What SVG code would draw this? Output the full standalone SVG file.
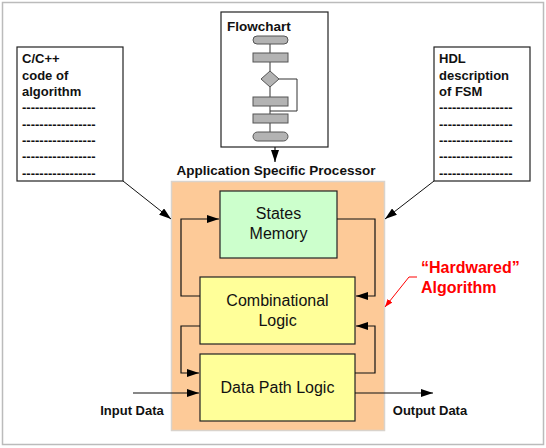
<svg xmlns="http://www.w3.org/2000/svg" width="546" height="448" viewBox="0 0 546 448">
<style>
text{font-family:"Liberation Sans",Arial,sans-serif;fill:#111}
.b{font-weight:bold}
.doc{font-size:13px;font-weight:bold}
.blk{font-size:16px;text-anchor:middle}
.box{stroke:#222;stroke-width:1.2}
.ln{fill:none;stroke:#111;stroke-width:1.2}
.fc{fill:#b3b3b3;stroke:#555;stroke-width:1}
</style>
<defs>
<marker id="ah" viewBox="0 0 12 8" refX="12" refY="4" markerWidth="12" markerHeight="8" markerUnits="userSpaceOnUse" orient="auto">
<path d="M0,0 L12,4 L0,8 Z" fill="#000"/>
</marker>
<marker id="ahr" viewBox="0 0 8 6" refX="8" refY="3" markerWidth="8" markerHeight="6" markerUnits="userSpaceOnUse" orient="auto">
<path d="M0,0 L8,3 L0,6 Z" fill="#f00"/>
</marker>
</defs>
<rect x="0" y="0" width="546" height="448" fill="#fff"/>
<rect x="2.5" y="2.5" width="541" height="442" fill="#fff" stroke="#bbb" stroke-width="1.5"/>

<g id="processor">
<rect x="171.5" y="181.5" width="213" height="249" fill="#fdca98" stroke="#d9d3cc" stroke-width="1.5"/>
<text x="276" y="175" class="b" style="font-size:13.5px" text-anchor="middle">Application Specific Processor</text>
</g>

<g id="flowchart">
<rect x="221" y="12" width="107" height="135" fill="#fff" class="box"/>
<text x="227" y="31" class="b" style="font-size:13.5px">Flowchart</text>
<path d="M270,44 V53 M270,62 V71 M270,87 V97 M270,106 V114 M270,123 V132 M279,79 H297 V111 H270" class="ln" style="stroke:#333;stroke-width:1"/>
<rect x="253" y="36" width="35" height="8" rx="4" class="fc"/>
<rect x="253" y="53" width="35" height="9" class="fc"/>
<path d="M270,71 L279,79 L270,87 L261,79 Z" class="fc"/>
<rect x="253" y="97" width="35" height="9" class="fc"/>
<rect x="253" y="114" width="35" height="9" class="fc"/>
<rect x="253" y="132" width="35" height="9" rx="4.5" class="fc"/>
</g>

<g id="ccode">
<rect x="17" y="47" width="106" height="134" fill="#fff" class="box"/>
<text class="doc"><tspan x="22" y="63">C/C++</tspan><tspan x="22" y="79.5">code of</tspan><tspan x="22" y="96">algorithm</tspan><tspan x="22" y="112">-----------------</tspan><tspan x="22" y="128.5">-----------------</tspan><tspan x="22" y="145">-----------------</tspan><tspan x="22" y="161">-----------------</tspan><tspan x="22" y="177.5">-----------------</tspan></text>
</g>

<g id="hdl">
<rect x="434" y="47" width="96" height="134" fill="#fff" class="box"/>
<text class="doc"><tspan x="439" y="63">HDL</tspan><tspan x="439" y="79.5">description</tspan><tspan x="439" y="96">of FSM</tspan><tspan x="439" y="112">-----------------</tspan><tspan x="439" y="128.5">-----------------</tspan><tspan x="439" y="145">-----------------</tspan><tspan x="439" y="161">-----------------</tspan><tspan x="439" y="177.5">-----------------</tspan></text>
</g>

<g id="states">
<rect x="220" y="191" width="117" height="67" fill="#ccffcc" class="box"/>
<text class="blk"><tspan x="278.5" y="219">States</tspan><tspan x="278.5" y="239">Memory</tspan></text>
</g>

<g id="comb">
<rect x="200" y="277" width="155" height="67" fill="#ffff99" class="box"/>
<text class="blk"><tspan x="277.5" y="306">Combinational</tspan><tspan x="277.5" y="326">Logic</tspan></text>
</g>

<g id="datapath">
<rect x="200" y="354" width="155" height="67" fill="#ffff99" class="box"/>
<text class="blk" x="277.5" y="393">Data Path Logic</text>
</g>

<g id="labels">
<text x="132" y="415" class="b" style="font-size:13px" text-anchor="middle">Input Data</text>
<text x="430" y="415" class="b" style="font-size:13px" text-anchor="middle">Output Data</text>
<text class="b" style="font-size:16px;fill:#f00"><tspan x="421" y="273">“Hardwared”</tspan><tspan x="421" y="293">Algorithm</tspan></text>
</g>

<g id="connectors">
<path d="M275,147 V162" class="ln" marker-end="url(#ah)"/>
<path d="M123,181 L171,219" class="ln" style="stroke-width:1" marker-end="url(#ah)"/>
<path d="M434,181 L385,219" class="ln" style="stroke-width:1" marker-end="url(#ah)"/>
<path d="M200,296 H181 V219 H219" class="ln" marker-end="url(#ah)"/>
<path d="M337,219 H375 V296 H356" class="ln" marker-end="url(#ah)"/>
<path d="M200,326 H181 V373 H199" class="ln" marker-end="url(#ah)"/>
<path d="M355,373 H375 V326 H356" class="ln" marker-end="url(#ah)"/>
<path d="M133,393 H199" class="ln" marker-end="url(#ah)"/>
<path d="M355,393 H433" class="ln" marker-end="url(#ah)"/>
<path d="M417,277 H409 L385,307" fill="none" stroke="#f00" stroke-width="1" marker-end="url(#ahr)"/>
</g>
</svg>
